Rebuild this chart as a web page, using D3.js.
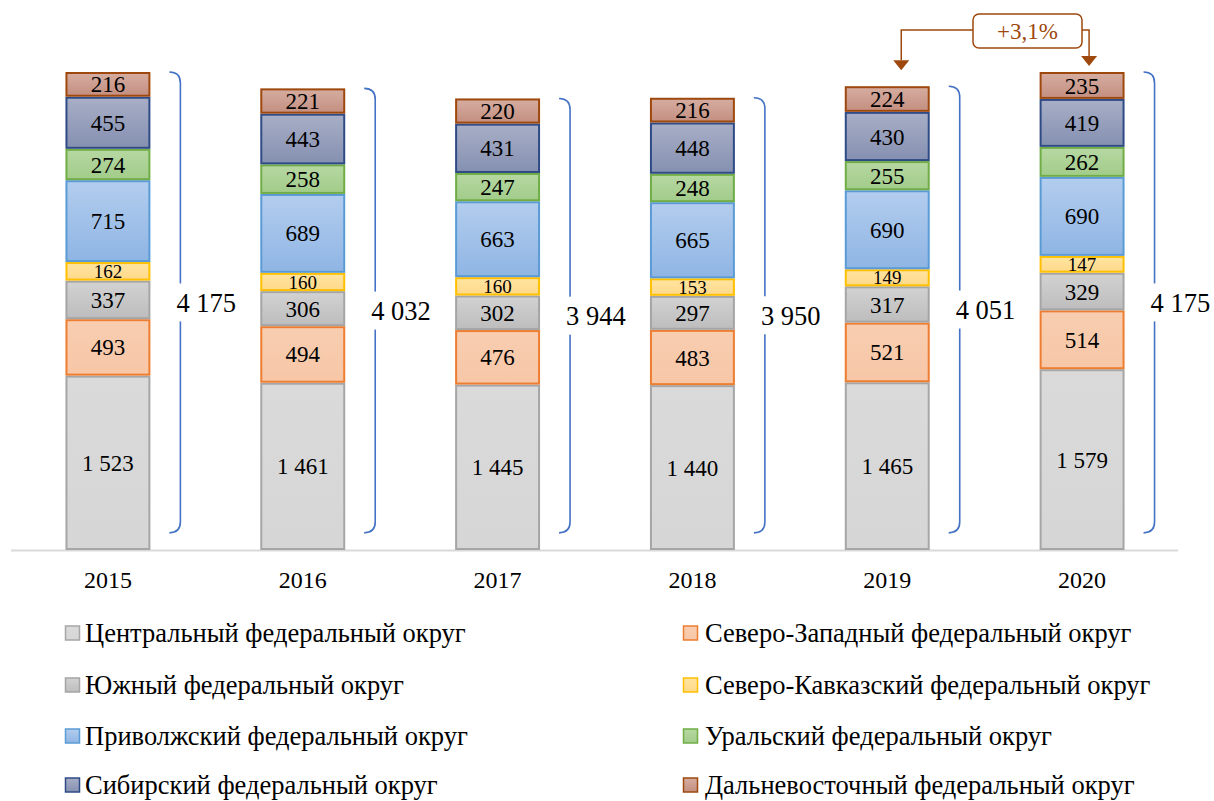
<!DOCTYPE html>
<html><head><meta charset="utf-8">
<script src="https://cdn.jsdelivr.net/npm/d3@7"></script>
<style>body{margin:0;background:#fff}svg{display:block}</style>
</head><body><div id="chart"></div>
<script>
const years = ["2015","2016","2017","2018","2019","2020"];
const seriesNames = ["Центральный федеральный округ","Северо-Западный федеральный округ","Южный федеральный округ","Северо-Кавказский федеральный округ","Приволжский федеральный округ","Уральский федеральный округ","Сибирский федеральный округ","Дальневосточный федеральный округ"];
const central   = [1523,1461,1445,1440,1465,1579];
const northwest = [493,494,476,483,521,514];
const south     = [337,306,302,297,317,329];
const ncaucasus = [162,160,160,153,149,147];
const volga     = [715,689,663,665,690,690];
const ural      = [274,258,247,248,255,262];
const siberia   = [455,443,431,448,430,419];
const fareast   = [216,221,220,216,224,235];
const totalLabels = ["4 175","4 032","3 944","3 950","4 051","4 175"];
const growthLabel = "+3,1%";

const FONT = "Liberation Serif";
const seriesValues = [central,northwest,south,ncaucasus,volga,ural,siberia,fareast];
const fills = [["#dadada","#d6d6d6"],["#f8cdb0","#f7c7a7"],["#d2d2d2","#bdbdbd"],["#ffe4a0","#ffd98a"],["#b3cdee","#8fb5e4"],["#b6d8a2","#a2cc8a"],["#a8aec6","#8590b1"],["#d6ada1","#c38f80"]];
const strokes = ["#a6a6a6","#ed7d31","#a5a5a5","#ffc000","#5b9bd5","#70ad47","#2f4b86","#9e480e"];

const W=1214,H=801;
const svg=d3.select("#chart").append("svg").attr("width",W).attr("height",H).attr("font-family",FONT);
const defs=svg.append("defs");
fills.forEach((f,i)=>{
  const g=defs.append("linearGradient").attr("id","g"+i).attr("x1",0).attr("y1",0).attr("x2",0).attr("y2",1);
  g.append("stop").attr("offset","0%").attr("stop-color",f[0]);
  g.append("stop").attr("offset","100%").attr("stop-color",f[1]);
});

const rows = years.map((y,i)=>{const r={year:y}; seriesNames.forEach((s,k)=>r[s]=seriesValues[k][i]); return r;});
const stacked = d3.stack().keys(seriesNames)(rows);

const x=d3.scaleBand().domain(years).range([10.5,1179.5]).paddingInner(0.564).paddingOuter(0.282);
const y=d3.scaleLinear().domain([0,4175]).range([550,72]);
const fmt=d3.formatLocale({decimal:",",thousands:" ",grouping:[3],currency:["",""]}).format(",d");

svg.append("line").attr("x1",11).attr("x2",1178).attr("y1",y(0)+0.5).attr("y2",y(0)+0.5).attr("stroke","#d9d9d9").attr("stroke-width",2);

const layers=svg.selectAll("g.layer").data(stacked).join("g").attr("class","layer");
layers.selectAll("rect").data((d,i)=>d.map(v=>({v,i}))).join("rect")
  .attr("x",d=>x(d.v.data.year)+1)
  .attr("width",x.bandwidth()-2)
  .attr("y",d=>y(d.v[1])+1)
  .attr("height",d=>y(d.v[0])-y(d.v[1])-2)
  .attr("fill",d=>`url(#g${d.i})`)
  .attr("stroke",d=>strokes[d.i]).attr("stroke-width",2);
layers.selectAll("text").data((d,i)=>d.map(v=>({v,i}))).join("text")
  .attr("font-family",FONT)
  .attr("x",d=>x(d.v.data.year)+x.bandwidth()/2)
  .attr("y",d=>(y(d.v[0])+y(d.v[1]))/2)
  .attr("dy","0.35em").attr("text-anchor","middle")
  .attr("font-size",d=>d.i===3?19:23).attr("fill","#000")
  .text(d=>fmt(d.v[1]-d.v[0]));

svg.selectAll("text.year").data(years).join("text").attr("class","year").attr("font-family",FONT)
  .attr("x",d=>x(d)+x.bandwidth()/2).attr("y",580).attr("dy","0.35em")
  .attr("text-anchor","middle").attr("font-size",24).text(d=>d);

const totals=years.map((yy,i)=>d3.sum(seriesValues,s=>s[i]));
years.forEach((yr,i)=>{
  const bx=x(yr)+x.bandwidth()+30;
  const top=y(totals[i]), bot=y(150);
  const mid=(top+bot)/2;
  const r=11;
  const g=svg.append("g");
  g.append("path").attr("fill","none").attr("stroke","#4472c4").attr("stroke-width",1.6)
   .attr("d",`M${bx-r},${top} Q${bx},${top} ${bx},${top+r} L${bx},${bot-r} Q${bx},${bot} ${bx-r},${bot}`);
  g.append("rect").attr("x",bx-3).attr("y",mid-19).attr("width",64).attr("height",38).attr("fill","#fff");
  g.append("text").attr("font-family",FONT).attr("x",bx-4).attr("y",mid).attr("dy","0.35em").attr("font-size",26.5).text(totalLabels[i]);
});

const brown="#9e480e";
const ax1=x("2019")+x.bandwidth()/2+14, ax2=x("2020")+x.bandwidth()/2+7;
const boxX=973,boxW=109,boxY=14,boxH=34,ly=30;
const ann=svg.append("g");
ann.append("path").attr("fill","none").attr("stroke",brown).attr("stroke-width",1.5)
  .attr("d",`M${boxX},${ly} L${ax1},${ly} L${ax1},${y(totals[4])-26}`);
ann.append("path").attr("fill","none").attr("stroke",brown).attr("stroke-width",1.5)
  .attr("d",`M${boxX+boxW},${ly} L${ax2},${ly} L${ax2},${y(totals[5])-16}`);
ann.append("path").attr("fill",brown).attr("d",`M${ax1-8},${y(totals[4])-26} L${ax1+8},${y(totals[4])-26} L${ax1},${y(totals[4])-16}Z`);
ann.append("path").attr("fill",brown).attr("d",`M${ax2-8},${y(totals[5])-16} L${ax2+8},${y(totals[5])-16} L${ax2},${y(totals[5])-6}Z`);
ann.append("rect").attr("x",boxX).attr("y",boxY).attr("width",boxW).attr("height",boxH).attr("rx",6)
  .attr("fill","#fff").attr("stroke",brown).attr("stroke-width",1.5);
ann.append("text").attr("font-family",FONT).attr("x",boxX+boxW/2).attr("y",boxY+boxH/2).attr("dy","0.35em").attr("text-anchor","middle")
  .attr("font-size",23).attr("fill",brown).text(growthLabel);

const legY=[633,685,736,785];
const leg=svg.selectAll("g.leg").data(seriesNames).join("g").attr("class","leg")
  .attr("transform",(d,i)=>`translate(${i%2===0?65:683},${legY[Math.floor(i/2)]})`);
leg.append("rect").attr("x",0.5).attr("y",-7).attr("width",14).attr("height",14)
  .attr("fill",(d,i)=>`url(#g${i})`).attr("stroke",(d,i)=>strokes[i]).attr("stroke-width",1.5);
leg.append("text").attr("font-family",FONT).attr("x",(d,i)=>i%2===0?20:22).attr("y",0).attr("dy","0.35em").attr("font-size",26.5).text(d=>d);
</script></body></html>
